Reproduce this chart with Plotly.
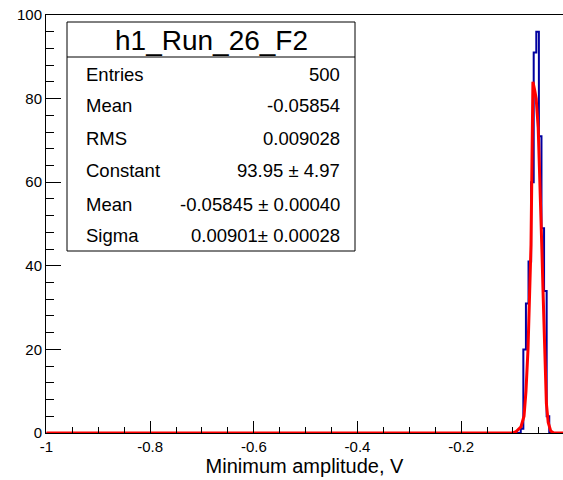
import numpy as np
import plotly.graph_objects as go

# ---- data ----
hist_range = (-1.0, 0.0)
n_bins = 200
first_bin_low = -0.085          # lower edge of first non-empty bin
bin_counts = [1, 20, 31, 41, 60, 91, 96, 71, 49, 34, 4]

fit_x = [-1.0, -0.100, -0.0942, -0.0845, -0.0787, -0.0749, -0.0710, -0.0681, -0.0652,
         -0.0633, -0.0615, -0.0581, -0.0552, -0.0513, -0.0488, -0.0465, -0.0442, -0.0420,
         -0.0397, -0.0378, -0.0355, -0.0320, -0.0272, -0.0214, 0.0]
fit_y = [0, 0, 0.3, 1.5, 4, 10, 20, 30, 45, 65, 84, 82, 80, 73, 64, 54, 44, 34,
         25, 17, 7, 2.5, 0.5, 0, 0]

stats_title = "h1_Run_26_F2"
stats_labels = ["Entries", "Mean", "RMS", "Constant", "Mean", "Sigma"]
stats_values = ["500", "-0.05854", "0.009028", "93.95 \u00b1 4.97",
                "-0.05845 \u00b1 0.00040", "0.00901\u00b1 0.00028"]

x_title = "Minimum amplitude, V"

# ---- build step outline ----
bw = (hist_range[1] - hist_range[0]) / n_bins
edges = np.linspace(hist_range[0], hist_range[1], n_bins + 1)
counts = np.zeros(n_bins)
i0 = int(round((first_bin_low - hist_range[0]) / bw))
counts[i0:i0 + len(bin_counts)] = bin_counts
step_x = edges
step_y = np.append(counts, counts[-1])

W, H = 563, 480
L, R, T, B = 46, 0, 15, 47
pw, ph = W - L - R, H - T - B

def px2x(px):
    return (px - L) / pw

def py2y(py):
    return (H - B - py) / ph

FONT = "Liberation Sans, Arial, Helvetica, sans-serif"

fig = go.Figure()
fig.add_trace(go.Scatter(x=step_x, y=step_y, mode="lines", line_shape="hv",
                         line=dict(color="#0000a0", width=2), showlegend=False,
                         hoverinfo="skip"))
fig.add_trace(go.Scatter(x=fit_x, y=fit_y, mode="lines",
                         line=dict(color="#ff0000", width=3), showlegend=False,
                         hoverinfo="skip"))

x0 = -1 + (L - 46.5) / 518.3
x1 = -1 + (W - 46.5) / 518.3
fig.update_xaxes(range=[x0, x1], showline=True, linecolor="black", linewidth=1,
                 mirror=True, ticks="inside", ticklen=12, tickwidth=1, tickcolor="black",
                 tickvals=[-1, -0.8, -0.6, -0.4, -0.2, 0],
                 ticktext=["-1", "-0.8", "-0.6", "-0.4", "-0.2", "0"],
                 minor=dict(dtick=0.05, tick0=0, ticks="inside", ticklen=6,
                            tickcolor="black", tickwidth=1),
                 showgrid=False, zeroline=False,
                 tickfont=dict(family=FONT, size=15, color="black"),
                 title=dict(text=x_title, font=dict(family=FONT, size=20, color="black"),
                            standoff=2))
fig.update_yaxes(range=[0, 100], showline=True, linecolor="black", linewidth=1,
                 mirror=False, ticks="inside", ticklen=15, tickwidth=1, tickcolor="black",
                 tickvals=[0, 20, 40, 60, 80, 100],
                 minor=dict(dtick=4, tick0=0, ticks="inside", ticklen=8,
                            tickcolor="black", tickwidth=1),
                 showgrid=False, zeroline=False,
                 tickfont=dict(family=FONT, size=15, color="black"))

# stats box
shapes = [
    dict(type="rect", xref="paper", yref="paper", x0=px2x(67), x1=px2x(355),
         y0=py2y(251), y1=py2y(22), line=dict(color="black", width=1),
         fillcolor="white", layer="above"),
    dict(type="line", xref="paper", yref="paper", x0=px2x(67), x1=px2x(355),
         y0=py2y(57), y1=py2y(57), line=dict(color="black", width=1), layer="above"),
]
annotations = [dict(text=stats_title, xref="paper", yref="paper", x=px2x(211),
                    y=py2y(40), showarrow=False, xanchor="center", yanchor="middle",
                    font=dict(family=FONT, size=28, color="black"))]
row_y = [74, 106, 138, 171, 204, 236]
for lab, val, ry in zip(stats_labels, stats_values, row_y):
    annotations.append(dict(text=lab, xref="paper", yref="paper", x=px2x(84), y=py2y(ry),
                            showarrow=False, xanchor="left", yanchor="middle",
                            font=dict(family=FONT, size=18.5, color="black")))
    annotations.append(dict(text=val, xref="paper", yref="paper", x=px2x(342), y=py2y(ry),
                            showarrow=False, xanchor="right", yanchor="middle",
                            font=dict(family=FONT, size=18.5, color="black")))

fig.update_layout(width=W, height=H, margin=dict(l=L, r=R, t=T, b=B, pad=0),
                  plot_bgcolor="white", paper_bgcolor="white",
                  shapes=shapes, annotations=annotations, showlegend=False)

fig.write_html("out.html")
